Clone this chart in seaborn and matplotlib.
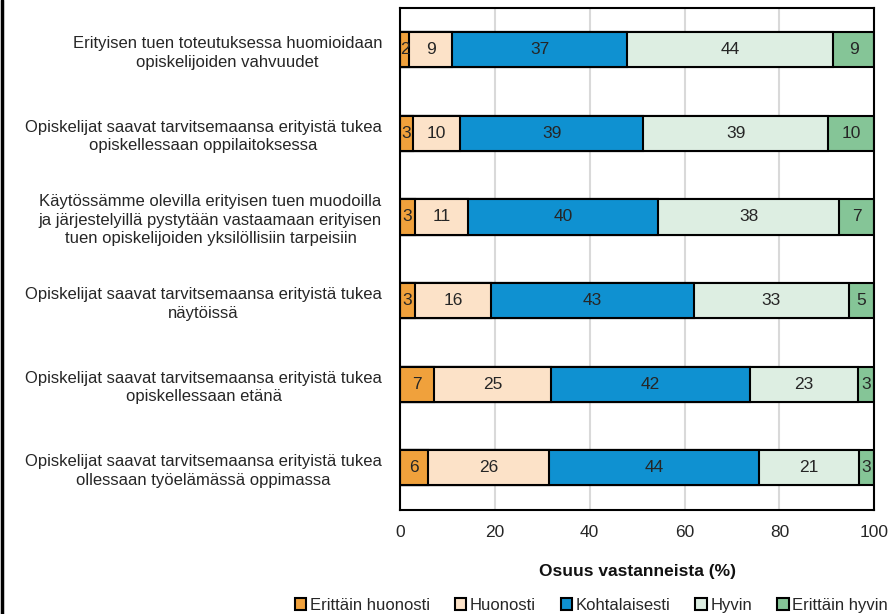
import pandas as pd
import numpy as np
import seaborn as sns
import matplotlib.pyplot as plt
from matplotlib.patches import Patch
from matplotlib.lines import Line2D

# Data (percent of respondents)
statements = [
    "Erityisen tuen toteutuksessa huomioidaan\nopiskelijoiden vahvuudet",
    "Opiskelijat saavat tarvitsemaansa erityistä tukea\nopiskellessaan oppilaitoksessa",
    "Käytössämme olevilla erityisen tuen muodoilla\nja järjestelyillä pystytään vastaamaan erityisen\ntuen opiskelijoiden yksilöllisiin tarpeisiin",
    "Opiskelijat saavat tarvitsemaansa erityistä tukea\nnäytöissä",
    "Opiskelijat saavat tarvitsemaansa erityistä tukea\nopiskellessaan etänä",
    "Opiskelijat saavat tarvitsemaansa erityistä tukea\nollessaan työelämässä oppimassa",
]
levels = ["Erittäin huonosti", "Huonosti", "Kohtalaisesti", "Hyvin", "Erittäin hyvin"]
erittain_huonosti = [1.9, 2.7, 3.2, 3.2, 7.2, 5.9]
huonosti = [9.1, 10.0, 11.2, 16.0, 24.7, 25.6]
kohtalaisesti = [36.9, 38.6, 40.0, 42.8, 41.9, 44.2]
hyvin = [43.5, 39.0, 38.2, 32.6, 22.8, 21.1]
erittain_hyvin = [8.6, 9.7, 7.4, 5.4, 3.4, 3.2]
labels = [
    [2, 9, 37, 44, 9],
    [3, 10, 39, 39, 10],
    [3, 11, 40, 38, 7],
    [3, 16, 43, 33, 5],
    [7, 25, 42, 23, 3],
    [6, 26, 44, 21, 3],
]
colors = ["#F0A13C", "#FCE2C8", "#0F91D1", "#DDEEE2", "#85C597"]

df = pd.DataFrame({
    "statement": statements,
    levels[0]: erittain_huonosti,
    levels[1]: huonosti,
    levels[2]: kohtalaisesti,
    levels[3]: hyvin,
    levels[4]: erittain_hyvin,
})
cum = df[levels].cumsum(axis=1)

sns.set_theme(style="white")
plt.rcParams["font.family"] = ["Liberation Sans", "DejaVu Sans"]

fig, ax = plt.subplots(figsize=(8.93, 6.14), dpi=100)
fig.subplots_adjust(left=0.448, right=0.979, top=0.987, bottom=0.17)

# stacked bars: draw cumulative totals from the longest down
for lvl, col in reversed(list(zip(levels, colors))):
    sns.barplot(data=cum.assign(statement=df["statement"]), x=lvl, y="statement",
                orient="h", color=col, width=0.42, edgecolor="black",
                linewidth=1.5, saturation=1, ax=ax)

# segment labels
for i in range(len(statements)):
    for j, lvl in enumerate(levels):
        v = df.loc[i, lvl]
        center = cum.loc[i, lvl] - v / 2
        ax.text(center, i, str(labels[i][j]), ha="center", va="center",
                fontsize=12.5, color="#262626")

ax.set_xlim(0, 100)
ax.set_ylim(5.5, -0.5)
ax.set_xticks(range(0, 101, 20))
ax.xaxis.grid(True, color="#d9d9d9", linewidth=1.5)
ax.set_axisbelow(True)
for s in ax.spines.values():
    s.set_color("black")
    s.set_linewidth(1.5)
ax.tick_params(axis="x", labelsize=12.5, colors="#262626", length=0, pad=11)
ax.tick_params(axis="y", labelsize=12, colors="#262626", length=0, pad=13)
for t in ax.get_yticklabels():
    t.set_multialignment("center")
    t.set_linespacing(1.3)
ax.set_ylabel("")
ax.set_xlabel("Osuus vastanneista (%)", fontsize=12.5, fontweight="bold",
              color="#111111", labelpad=17)

handles = [Patch(facecolor=c, edgecolor="black", linewidth=1.5) for c in colors]
fig.legend(handles, levels, loc="lower center", bbox_to_anchor=(0.662, -0.022),
           ncol=5, frameon=False, fontsize=12, handlelength=0.7,
           handleheight=0.7, handletextpad=0.2, columnspacing=1.5)

fig.add_artist(Line2D([0.002, 0.002], [0, 1], color="black", linewidth=2.5,
                      transform=fig.transFigure))

fig.savefig("out.png", dpi=100)
